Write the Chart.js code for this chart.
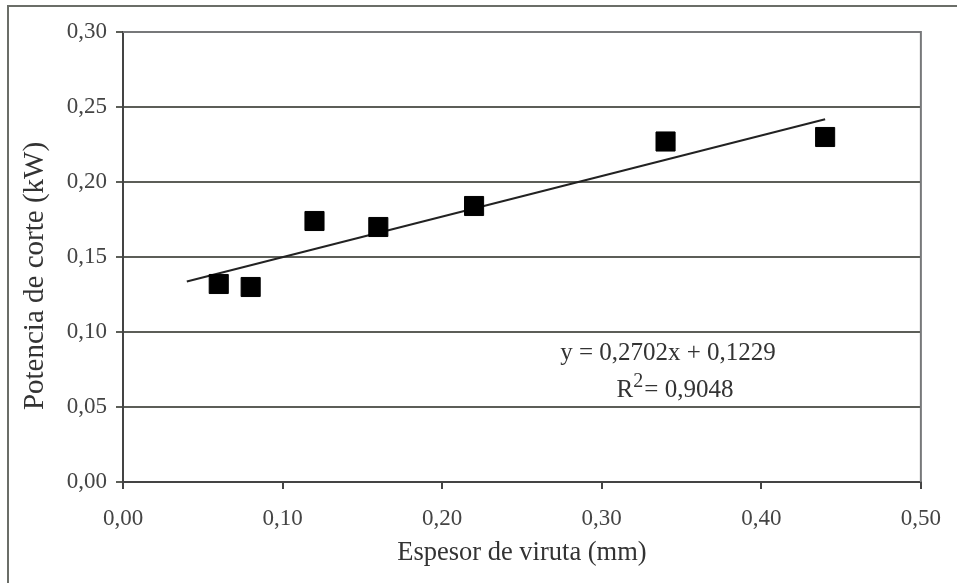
<!DOCTYPE html>
<html>
<head>
<meta charset="utf-8">
<script src="https://cdn.jsdelivr.net/npm/chart.js@4/dist/chart.umd.min.js"></script>
<style>
  html, body { margin: 0; padding: 0; background: #fff; }
  #wrap { width: 957px; height: 583px; position: relative; }
</style>
</head>
<body>
<div id="wrap"><canvas id="chart"></canvas></div>
<script>
// Espesor de viruta (mm) vs. potencia de corte (kW)
const espesor = [0.06, 0.08, 0.12, 0.16, 0.22, 0.34, 0.44];
const potencia = [0.132, 0.130, 0.174, 0.170, 0.184, 0.227, 0.230];

// Linear trend y = a*x + b, drawn between these x limits
const trendA = 0.2702;
const trendB = 0.1229;
const trendR2 = 0.9048;
const trendX = [0.04, 0.44];

const xTicks = [0, 0.1, 0.2, 0.3, 0.4, 0.5];
const yTicks = [0, 0.05, 0.1, 0.15, 0.2, 0.25, 0.3];

const yTitle = 'Potencia de corte (kW)';
const xTitle = 'Espesor de viruta (mm)';

const SERIF = "'Liberation Serif', 'Times New Roman', serif";
const fmt = (v) => v.toFixed(2).replace('.', ',');
const fmt4 = (v) => v.toFixed(4).replace('.', ',');

const points = espesor.map((x, i) => ({ x, y: potencia[i] }));
const trend = trendX.map((x) => ({ x, y: trendA * x + trendB }));

// outer frame, plot border, y title and the equation text
const decor = {
  id: 'decor',
  beforeDraw(chart) {
    const ctx = chart.ctx;
    ctx.save();
    ctx.fillStyle = '#fff';
    ctx.fillRect(0, 0, chart.width, chart.height);
    ctx.strokeStyle = '#6b6e68';
    ctx.lineWidth = 2;
    ctx.beginPath();
    ctx.moveTo(8, chart.height + 2);
    ctx.lineTo(8, 6);
    ctx.lineTo(chart.width + 2, 6);
    ctx.stroke();

    // y axis title sits a bit below the middle of the axis
    ctx.translate(35, 276);
    ctx.rotate(-Math.PI / 2);
    ctx.fillStyle = '#333';
    ctx.font = '29px ' + SERIF;
    ctx.textAlign = 'center';
    ctx.textBaseline = 'middle';
    ctx.fillText(yTitle, 0, 0);
    ctx.restore();
  },
  afterDatasetsDraw(chart) {
    const { ctx, chartArea: a } = chart;
    ctx.save();
    ctx.strokeStyle = '#77787a';
    ctx.lineWidth = 2;
    ctx.beginPath();
    ctx.moveTo(a.left, a.top);
    ctx.lineTo(a.right, a.top);
    ctx.lineTo(a.right, a.bottom);
    ctx.stroke();

    ctx.fillStyle = '#333';
    ctx.textBaseline = 'middle';
    ctx.textAlign = 'center';
    ctx.font = '25px ' + SERIF;
    const eq = 'y = ' + fmt4(trendA) + 'x + ' + fmt4(trendB);
    ctx.fillText(eq, 668, 353);

    const pre = 'R';
    const post = '= ' + fmt4(trendR2);
    const wPre = ctx.measureText(pre).width;
    const wPost = ctx.measureText(post).width;
    ctx.font = '20px ' + SERIF;
    const wSup = ctx.measureText('2').width + 1;
    const total = wPre + wSup + wPost;
    let x = 675 - total / 2;
    ctx.textAlign = 'left';
    ctx.font = '25px ' + SERIF;
    ctx.fillText(pre, x, 390);
    x += wPre;
    ctx.font = '20px ' + SERIF;
    ctx.fillText('2', x, 382);
    x += wSup;
    ctx.font = '25px ' + SERIF;
    ctx.fillText(post, x, 390);
    ctx.restore();
  }
};

new Chart(document.getElementById('chart'), {
  type: 'scatter',
  data: {
    datasets: [
      {
        label: 'Potencia',
        data: points,
        pointStyle: 'rect',
        pointRadius: 13.5,
        pointHoverRadius: 13.5,
        backgroundColor: '#000',
        borderColor: '#000',
        borderWidth: 1,
        order: 1
      },
      {
        label: 'Tendencia',
        type: 'line',
        data: trend,
        borderColor: '#222',
        borderWidth: 2,
        pointRadius: 0,
        fill: false,
        order: 2
      }
    ]
  },
  options: {
    responsive: true,
    maintainAspectRatio: false,
    animation: false,
    layout: { padding: { top: 32, right: 32, left: 0, bottom: 0 } },
    plugins: {
      legend: { display: false },
      tooltip: { enabled: false }
    },
    scales: {
      x: {
        type: 'linear',
        min: 0,
        max: 0.5,
        afterBuildTicks: (s) => { s.ticks = xTicks.map((v) => ({ value: v })); },
        afterFit: (s) => { s.height = 101; },
        grid: { drawOnChartArea: false, drawTicks: true, tickLength: 7, color: '#444', lineWidth: 2 },
        border: { display: true, color: '#444', width: 2 },
        ticks: {
          color: '#444',
          padding: 16,
          font: { family: SERIF, size: 23 },
          callback: (v) => fmt(v)
        },
        title: {
          display: true,
          text: xTitle,
          color: '#333',
          font: { family: SERIF, size: 26.5 },
          padding: { top: 0, bottom: 14 }
        }
      },
      y: {
        type: 'linear',
        min: 0,
        max: 0.3,
        afterBuildTicks: (s) => { s.ticks = yTicks.map((v) => ({ value: v })); },
        afterFit: (s) => { s.width = 123; },
        grid: { drawOnChartArea: true, drawTicks: true, tickLength: 7, color: '#5c5e58', lineWidth: 2 },
        border: { display: true, color: '#444', width: 2 },
        ticks: {
          color: '#444',
          padding: 9,
          font: { family: SERIF, size: 23 },
          callback: (v) => fmt(v)
        },
        title: { display: false }
      }
    }
  },
  plugins: [decor]
});
</script>
</body>
</html>
